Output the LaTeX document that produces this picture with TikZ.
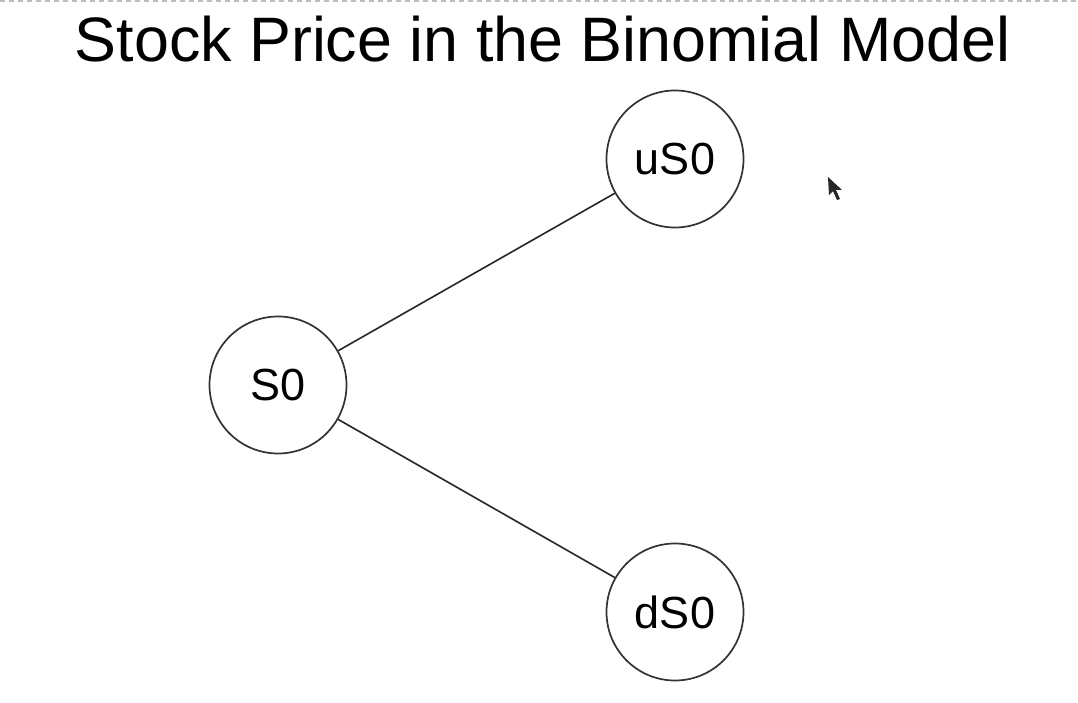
\documentclass[tikz,border=0pt]{standalone}
\usepackage{fontspec}
\setmainfont{Liberation Sans}
\begin{document}
\begin{tikzpicture}[x=1pt,y=1pt,
  statenode/.style={circle,draw=black!80,line width=1.7pt,minimum size=137pt,inner sep=0pt,
    font=\fontsize{45}{50}\selectfont},
  edge/.style={draw=black!85,line width=1.6pt},
  titlestyle/.style={font=\fontsize{62.8}{70}\selectfont,inner sep=0pt,anchor=base}]
\useasboundingbox[fill=white] (0,0) rectangle (1078,702);
\draw[black!25,line width=1.5pt,dash pattern=on 5pt off 4pt] (0,701) -- (1078,701);
\node[titlestyle] (title) at (542.5,640) {Stock Price in the Binomial Model};
\node[statenode] (s0) at (278,317) {S0};
\node[statenode] (us0) at (675,543) {uS0};
\node[statenode] (ds0) at (675,90) {dS0};
\draw[edge] (s0) -- (us0);
\draw[edge] (s0) -- (ds0);
% mouse cursor
\fill[black!85] (828,525) -- (829,507) -- (833,511) -- (837,502) -- (840,503) -- (836,512) -- (842,512) -- cycle;
\end{tikzpicture}
\end{document}
